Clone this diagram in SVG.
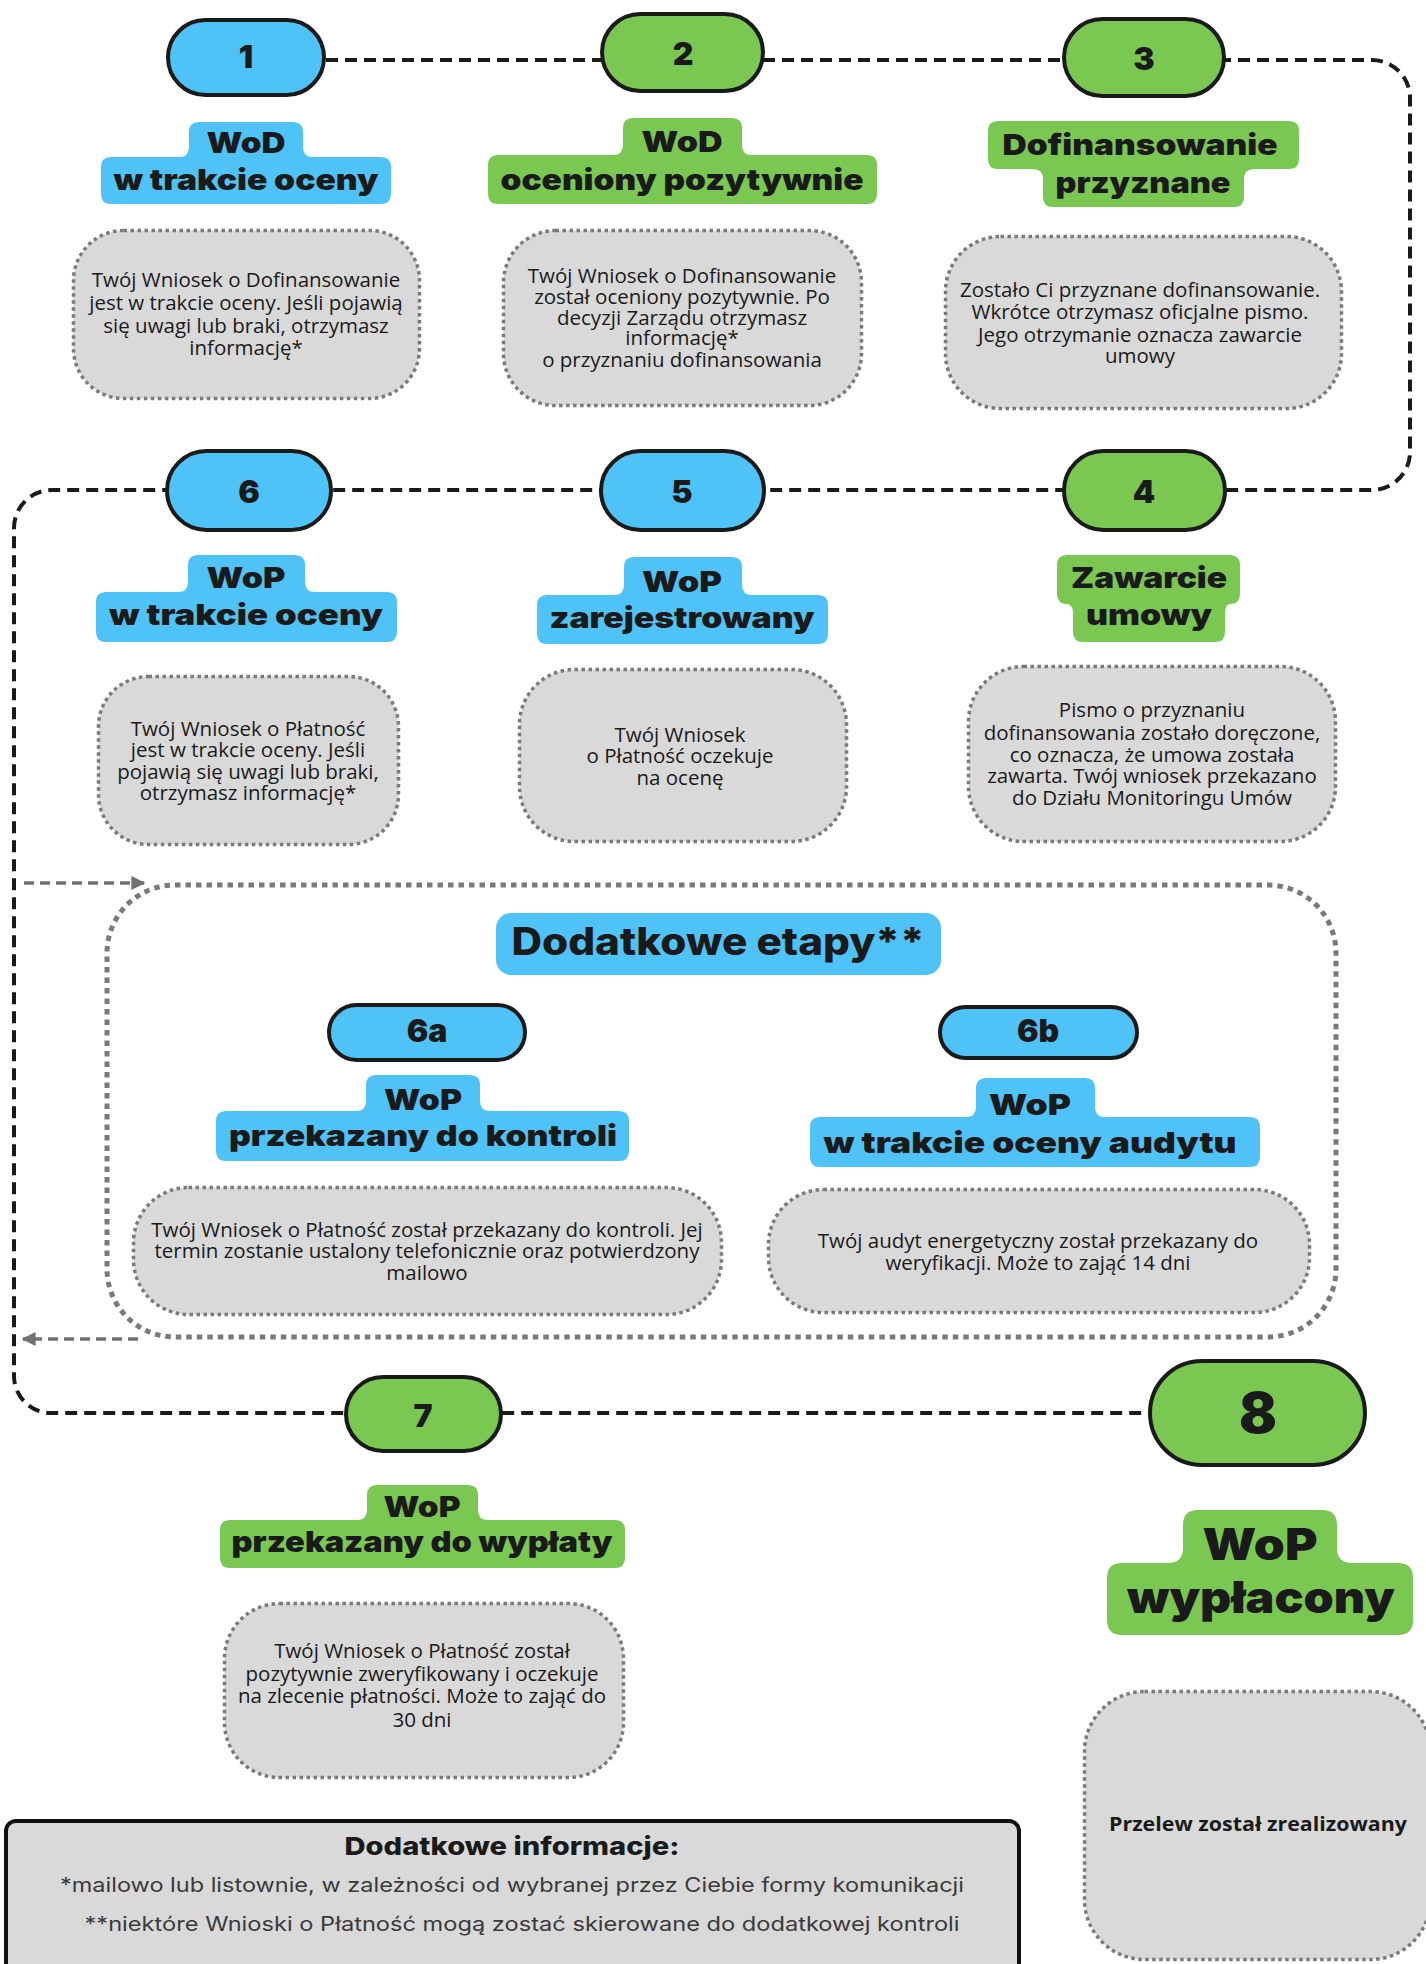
<svg xmlns="http://www.w3.org/2000/svg" width="1426" height="1964" viewBox="0 0 1426 1964">
<defs>
<style>
.pb{fill:#4FC3F7;stroke:#1a1a1a;stroke-width:4}
.pg{fill:#7AC751;stroke:#1a1a1a;stroke-width:4}
.lb{fill:#4FC3F7}
.lg{fill:#7AC751}
.box{fill:#D9D9D9;stroke:#7a7a7a;stroke-width:3.5;stroke-dasharray:3.5 3.5}
.num{font-family:Inter,"Liberation Sans",sans-serif;font-weight:900;font-size:32px;fill:#1a1a1a;text-anchor:middle}
.hd{font-family:Inter,"Liberation Sans",sans-serif;font-weight:900;font-size:29px;fill:#1a1a1a;text-anchor:middle}
.bd{font-family:"Open Sans","Liberation Sans",sans-serif;font-size:20.5px;fill:#1a1a1a;text-anchor:middle}
.ft{font-family:Inter,"Liberation Sans",sans-serif;font-size:20px;fill:#3a3a3a;text-anchor:middle}
.conn{fill:none;stroke:#1a1a1a;stroke-width:4;stroke-dasharray:12 7}
.garr{fill:none;stroke:#707070;stroke-width:3.5;stroke-dasharray:10 6}
</style>
<marker id="ga" viewBox="0 0 10 10" refX="9" refY="5" markerWidth="4" markerHeight="4" orient="auto" markerUnits="strokeWidth">
<path d="M0,0 L10,5 L0,10 Z" fill="#707070"/>
</marker>
</defs>
<rect width="1426" height="1964" fill="#ffffff"/>

<g id="connectors">
<path class="conn" d="M326 60 H1372 A38 38 0 0 1 1410 98 V452 A38 38 0 0 1 1372 490 H52 A38 38 0 0 0 14 528 V1376 A37 37 0 0 0 51 1413 H1148"/>
<path class="garr" d="M24 883 H144" marker-end="url(#ga)"/>
<path class="garr" d="M138 1339 H23" marker-end="url(#ga)"/>
</g>

<g id="group-extra">
<rect x="107" y="885" width="1229" height="452" rx="68" fill="none" stroke="#7a7a7a" stroke-width="5" stroke-dasharray="5.5 5"/>
<rect x="496" y="913" width="445" height="62" rx="15" class="lb"/>
<text x="718" y="955" class="hd" style="font-size:38px;font-weight:800" textLength="413" lengthAdjust="spacingAndGlyphs">Dodatkowe etapy**</text>
</g>

<g id="n1">
<rect x="168" y="20" width="156" height="75" rx="37.5" class="pb"/>
<text x="246" y="68" class="num">1</text>
<path class="lb" d="M199 122 H293 Q303 122 303 132 V147 Q303 157 313 157 H381 Q391 157 391 167 V194 Q391 204 381 204 H111 Q101 204 101 194 V167 Q101 157 111 157 H179 Q189 157 189 147 V132 Q189 122 199 122 Z"/>
<text x="246" y="153" class="hd" textLength="79" lengthAdjust="spacingAndGlyphs">WoD</text>
<text x="246" y="190" class="hd" textLength="265" lengthAdjust="spacingAndGlyphs">w trakcie oceny</text>
<rect x="73.5" y="230.5" width="346" height="168" rx="50" class="box"/>
<text class="bd"><tspan x="246" y="287">Twój Wniosek o Dofinansowanie</tspan><tspan x="246" y="310">jest w trakcie oceny. Jeśli pojawią</tspan><tspan x="246" y="333">się uwagi lub braki, otrzymasz</tspan><tspan x="246" y="355">informację*</tspan></text>
</g>

<g id="n2">
<rect x="602" y="14" width="161" height="77" rx="38.5" class="pg"/>
<text x="683" y="65" class="num">2</text>
<path class="lg" d="M633 118 H732 Q742 118 742 128 V145 Q742 155 752 155 H867 Q877 155 877 165 V194 Q877 204 867 204 H498 Q488 204 488 194 V165 Q488 155 498 155 H613 Q623 155 623 145 V128 Q623 118 633 118 Z"/>
<text x="682" y="152" class="hd" textLength="81" lengthAdjust="spacingAndGlyphs">WoD</text>
<text x="682" y="190" class="hd" textLength="363" lengthAdjust="spacingAndGlyphs">oceniony pozytywnie</text>
<rect x="503.5" y="230.5" width="358" height="175" rx="52" class="box"/>
<text class="bd"><tspan x="682" y="283">Twój Wniosek o Dofinansowanie</tspan><tspan x="682" y="304">został oceniony pozytywnie. Po</tspan><tspan x="682" y="325">decyzji Zarządu otrzymasz</tspan><tspan x="682" y="345">informację*</tspan><tspan x="682" y="367">o przyznaniu dofinansowania</tspan></text>
</g>

<g id="n3">
<rect x="1064" y="19" width="160" height="77" rx="38.5" class="pg"/>
<text x="1144" y="70" class="num">3</text>
<path class="lg" d="M998 121 H1289 Q1299 121 1299 131 V159 Q1299 169 1289 169 H1254 Q1244 169 1244 179 V197 Q1244 207 1234 207 H1053 Q1043 207 1043 197 V179 Q1043 169 1033 169 H998 Q988 169 988 159 V131 Q988 121 998 121 Z"/>
<text x="1140" y="155" class="hd" textLength="275" lengthAdjust="spacingAndGlyphs">Dofinansowanie</text>
<text x="1143" y="193" class="hd" textLength="175" lengthAdjust="spacingAndGlyphs">przyznane</text>
<rect x="945.5" y="236.5" width="396" height="172" rx="55" class="box"/>
<text class="bd"><tspan x="1140" y="297">Zostało Ci przyznane dofinansowanie.</tspan><tspan x="1140" y="319">Wkrótce otrzymasz oficjalne pismo.</tspan><tspan x="1140" y="342">Jego otrzymanie oznacza zawarcie</tspan><tspan x="1140" y="363">umowy</tspan></text>
</g>

<g id="n4">
<rect x="1064" y="451" width="161" height="79" rx="39.5" class="pg"/>
<text x="1144" y="503" class="num">4</text>
<path class="lg" d="M1067 555 H1230 Q1240 555 1240 565 V594 Q1240 604 1230 604 Q1225 604 1225 614 V632 Q1225 642 1215 642 H1083 Q1073 642 1073 632 V614 Q1073 604 1067 604 Q1057 604 1057 594 V565 Q1057 555 1067 555 Z"/>
<text x="1149" y="588" class="hd" textLength="156" lengthAdjust="spacingAndGlyphs">Zawarcie</text>
<text x="1149" y="625" class="hd" textLength="126" lengthAdjust="spacingAndGlyphs">umowy</text>
<rect x="968.5" y="666.5" width="367" height="175" rx="55" class="box"/>
<text class="bd"><tspan x="1152" y="717">Pismo o przyznaniu</tspan><tspan x="1152" y="740">dofinansowania zostało doręczone,</tspan><tspan x="1152" y="762">co oznacza, że umowa została</tspan><tspan x="1152" y="783">zawarta. Twój wniosek przekazano</tspan><tspan x="1152" y="805">do Działu Monitoringu Umów</tspan></text>
</g>

<g id="n5">
<rect x="601" y="451" width="163" height="79" rx="39.5" class="pb"/>
<text x="682" y="503" class="num">5</text>
<path class="lb" d="M634 557 H732 Q742 557 742 567 V585 Q742 595 752 595 H818 Q828 595 828 605 V634 Q828 644 818 644 H547 Q537 644 537 634 V605 Q537 595 547 595 H614 Q624 595 624 585 V567 Q624 557 634 557 Z"/>
<text x="682" y="592" class="hd" textLength="80" lengthAdjust="spacingAndGlyphs">WoP</text>
<text x="682" y="628" class="hd" textLength="265" lengthAdjust="spacingAndGlyphs">zarejestrowany</text>
<rect x="519.5" y="669.5" width="327" height="172" rx="55" class="box"/>
<text class="bd"><tspan x="680" y="742">Twój Wniosek</tspan><tspan x="680" y="763">o Płatność oczekuje</tspan><tspan x="680" y="785">na ocenę</tspan></text>
</g>

<g id="n6">
<rect x="167" y="451" width="164" height="79" rx="39.5" class="pb"/>
<text x="249" y="503" class="num">6</text>
<path class="lb" d="M198 555 H295 Q305 555 305 565 V582 Q305 592 315 592 H387 Q397 592 397 602 V632 Q397 642 387 642 H106 Q96 642 96 632 V602 Q96 592 106 592 H178 Q188 592 188 582 V565 Q188 555 198 555 Z"/>
<text x="246" y="588" class="hd" textLength="79" lengthAdjust="spacingAndGlyphs">WoP</text>
<text x="246" y="625" class="hd" textLength="274" lengthAdjust="spacingAndGlyphs">w trakcie oceny</text>
<rect x="98.5" y="676.5" width="300" height="168" rx="50" class="box"/>
<text class="bd"><tspan x="248" y="736">Twój Wniosek o Płatność</tspan><tspan x="248" y="757">jest w trakcie oceny. Jeśli</tspan><tspan x="248" y="779">pojawią się uwagi lub braki,</tspan><tspan x="248" y="800">otrzymasz informację*</tspan></text>
</g>

<g id="n6a">
<rect x="329" y="1005" width="196" height="55" rx="27.5" class="pb"/>
<text x="427" y="1042" class="num">6a</text>
<path class="lb" d="M376 1075 H470 Q480 1075 480 1085 V1101 Q480 1111 490 1111 H619 Q629 1111 629 1121 V1151 Q629 1161 619 1161 H226 Q216 1161 216 1151 V1121 Q216 1111 226 1111 H356 Q366 1111 366 1101 V1085 Q366 1075 376 1075 Z"/>
<text x="423" y="1110" class="hd" textLength="78" lengthAdjust="spacingAndGlyphs">WoP</text>
<text x="423" y="1146" class="hd" textLength="388" lengthAdjust="spacingAndGlyphs">przekazany do kontroli</text>
<rect x="133.5" y="1187.5" width="588" height="127" rx="55" class="box"/>
<text class="bd"><tspan x="427" y="1237">Twój Wniosek o Płatność został przekazany do kontroli. Jej</tspan><tspan x="427" y="1258">termin zostanie ustalony telefonicznie oraz potwierdzony</tspan><tspan x="427" y="1280">mailowo</tspan></text>
</g>

<g id="n6b">
<rect x="940" y="1007" width="197" height="51" rx="25.5" class="pb"/>
<text x="1038" y="1042" class="num">6b</text>
<path class="lb" d="M986 1078 H1085 Q1095 1078 1095 1088 V1107 Q1095 1117 1105 1117 H1250 Q1260 1117 1260 1127 V1157 Q1260 1167 1250 1167 H820 Q810 1167 810 1157 V1127 Q810 1117 820 1117 H966 Q976 1117 976 1107 V1088 Q976 1078 986 1078 Z"/>
<text x="1030" y="1115" class="hd" textLength="82" lengthAdjust="spacingAndGlyphs">WoP</text>
<text x="1030" y="1153" class="hd" textLength="413" lengthAdjust="spacingAndGlyphs">w trakcie oceny audytu</text>
<rect x="768.5" y="1189.5" width="541" height="123" rx="55" class="box"/>
<text class="bd"><tspan x="1038" y="1248">Twój audyt energetyczny został przekazany do</tspan><tspan x="1038" y="1270">weryfikacji. Może to zająć 14 dni</tspan></text>
</g>

<g id="n7">
<rect x="346" y="1377" width="155" height="74" rx="37" class="pg"/>
<text x="423" y="1427" class="num">7</text>
<path class="lg" d="M377 1485 H468 Q478 1485 478 1495 V1510 Q478 1520 488 1520 H615 Q625 1520 625 1530 V1558 Q625 1568 615 1568 H230 Q220 1568 220 1558 V1530 Q220 1520 230 1520 H357 Q367 1520 367 1510 V1495 Q367 1485 377 1485 Z"/>
<text x="422" y="1517" class="hd" textLength="77" lengthAdjust="spacingAndGlyphs">WoP</text>
<text x="422" y="1552" class="hd" textLength="381" lengthAdjust="spacingAndGlyphs">przekazany do wypłaty</text>
<rect x="224.5" y="1603.5" width="399" height="174" rx="55" class="box"/>
<text class="bd"><tspan x="422" y="1658">Twój Wniosek o Płatność został</tspan><tspan x="422" y="1681">pozytywnie zweryfikowany i oczekuje</tspan><tspan x="422" y="1703">na zlecenie płatności. Może to zająć do</tspan><tspan x="422" y="1727">30 dni</tspan></text>
</g>

<g id="n8">
<rect x="1150" y="1361" width="215" height="104" rx="52" class="pg"/>
<text x="1258" y="1433" class="num" style="font-size:56px">8</text>
<path class="lg" d="M1198 1510 H1322 Q1337 1510 1337 1525 V1548 Q1337 1563 1352 1563 H1398 Q1413 1563 1413 1578 V1620 Q1413 1635 1398 1635 H1122 Q1107 1635 1107 1620 V1578 Q1107 1563 1122 1563 H1168 Q1183 1563 1183 1548 V1525 Q1183 1510 1198 1510 Z"/>
<text x="1260" y="1560" class="hd" style="font-size:44px" textLength="115" lengthAdjust="spacingAndGlyphs">WoP</text>
<text x="1261" y="1613" class="hd" style="font-size:44px" textLength="268" lengthAdjust="spacingAndGlyphs">wypłacony</text>
<rect x="1084.5" y="1691.5" width="346" height="268" rx="60" class="box"/>
<text x="1258" y="1831" class="bd" style="font-size:19px;font-weight:700" textLength="298" lengthAdjust="spacingAndGlyphs">Przelew został zrealizowany</text>
</g>

<g id="info">
<rect x="6" y="1821" width="1013" height="160" rx="10" fill="#D9D9D9" stroke="#111111" stroke-width="4"/>
<text x="512" y="1855" class="hd" style="font-size:25px;font-weight:800" textLength="335" lengthAdjust="spacingAndGlyphs">Dodatkowe informacje:</text>
<text x="512" y="1892" class="ft" textLength="904" lengthAdjust="spacingAndGlyphs">*mailowo lub listownie, w zależności od wybranej przez Ciebie formy komunikacji</text>
<text x="522" y="1931" class="ft" textLength="875" lengthAdjust="spacingAndGlyphs">**niektóre Wnioski o Płatność mogą zostać skierowane do dodatkowej kontroli</text>
</g>
</svg>
